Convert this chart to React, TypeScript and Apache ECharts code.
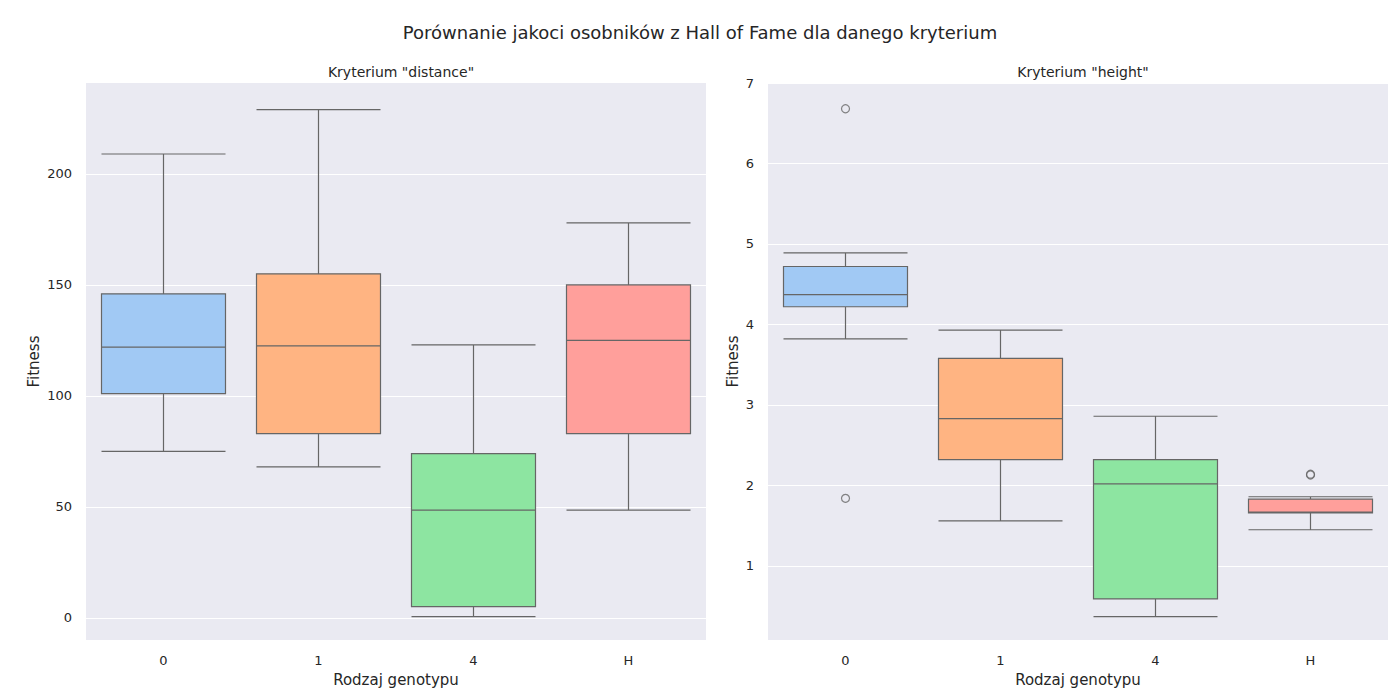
import React, { useEffect, useRef } from 'react';
import * as echarts from 'echarts';

const categories = ['0', '1', '4', 'H'];
const colors = ['#a1c9f4', '#ffb482', '#8de5a1', '#ff9f9b'];

// [min, q1, median, q3, max]
const distanceBoxes = [
  [75, 101, 122, 146, 209],
  [68, 83, 122.5, 155, 229],
  [0.5, 5, 48.5, 74, 123],
  [48.5, 83, 125, 150, 178],
];
const heightBoxes = [
  [3.82, 4.22, 4.37, 4.72, 4.89],
  [1.56, 2.32, 2.83, 3.58, 3.93],
  [0.37, 0.59, 2.02, 2.32, 2.86],
  [1.45, 1.66, 1.67, 1.83, 1.86],
];
const heightOutliers: [number, number][] = [
  [0, 6.68],
  [0, 1.84],
  [3, 2.13],
  [3, 2.14],
];
const distanceTicks = [0, 50, 100, 150, 200];
const heightTicks = [1, 2, 3, 4, 5, 6, 7];

const font = 'DejaVu Sans, Arial, sans-serif';

const App: React.FC = () => {
  const ref = useRef<HTMLDivElement>(null);

  useEffect(() => {
    if (!ref.current) return;
    const chart = echarts.init(ref.current, null, { renderer: 'svg' });

    const xAxis = (gridIndex: number) => ({
      type: 'category' as const,
      gridIndex,
      data: categories,
      name: 'Rodzaj genotypu',
      nameLocation: 'middle' as const,
      nameGap: 32,
      nameTextStyle: { fontSize: 15, color: '#262626', fontFamily: font },
      axisLine: { show: false },
      axisTick: { show: false },
      axisLabel: { fontSize: 13, color: '#262626', margin: 14, fontFamily: font },
    });
    const yAxis = (gridIndex: number, min: number, max: number, ticks: number[]) => ({
      type: 'value' as const,
      gridIndex,
      min,
      max,
      name: 'Fitness',
      nameLocation: 'middle' as const,
      nameGap: gridIndex === 0 ? 45 : 28,
      nameTextStyle: { fontSize: 15, color: '#262626', fontFamily: font },
      axisLine: { show: false },
      axisTick: { show: true, length: 0, customValues: ticks },
      axisLabel: { fontSize: 13, color: '#262626', margin: 14, fontFamily: font, customValues: ticks },
      splitLine: { show: true, lineStyle: { color: '#ffffff', width: 1.2 } },
    });

    const boxSeries = (idx: number, boxes: number[][]) => ({
      type: 'boxplot' as const,
      xAxisIndex: idx,
      yAxisIndex: idx,
      boxWidth: ['80%', '80%'],
      data: boxes.map((b, i) => ({
        value: b,
        itemStyle: { color: colors[i], borderColor: '#666666', borderWidth: 1.2 },
      })),
    });

    chart.setOption({
      animation: false,
      backgroundColor: '#ffffff',
      title: [
        {
          text: 'Porównanie jakoci osobników z Hall of Fame dla danego kryterium',
          left: 'center',
          top: 10,
          textStyle: { fontSize: 18, fontWeight: 'normal', color: '#262626', fontFamily: font },
        },
        {
          text: 'Kryterium "distance"',
          left: 388,
          textAlign: 'center',
          top: 52,
          textStyle: { fontSize: 14, fontWeight: 'normal', color: '#262626', fontFamily: font },
        },
        {
          text: 'Kryterium "height"',
          left: 1070,
          textAlign: 'center',
          top: 52,
          textStyle: { fontSize: 14, fontWeight: 'normal', color: '#262626', fontFamily: font },
        },
      ],
      grid: [
        { left: 78, width: 620, top: 75, height: 557, show: true, backgroundColor: '#eaeaf2', borderWidth: 0 },
        { left: 760, width: 620, top: 75, height: 557, show: true, backgroundColor: '#eaeaf2', borderWidth: 0 },
      ],
      xAxis: [xAxis(0), xAxis(1)],
      yAxis: [yAxis(0, -10, 241, distanceTicks), yAxis(1, 0.08, 7, heightTicks)],
      series: [
        boxSeries(0, distanceBoxes),
        boxSeries(1, heightBoxes),
        {
          type: 'scatter',
          xAxisIndex: 1,
          yAxisIndex: 1,
          symbol: 'circle',
          symbolSize: 8,
          itemStyle: { color: 'rgba(0,0,0,0)', borderColor: '#666666', borderWidth: 1.2 },
          data: heightOutliers,
        },
      ],
    });

    return () => chart.dispose();
  }, []);

  return <div ref={ref} style={{ width: 1384, height: 684 }} />;
};

export default App;
